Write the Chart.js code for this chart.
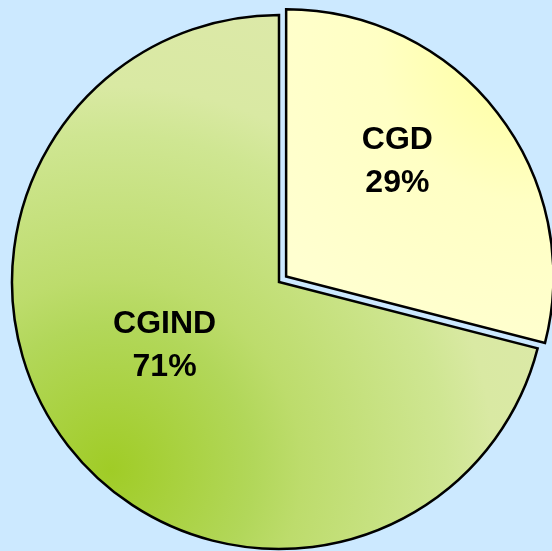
<!DOCTYPE html>
<html>
<head>
<meta charset="utf-8">
<script src="https://cdn.jsdelivr.net/npm/chart.js@4.4.0/dist/chart.umd.min.js"></script>
<style>
  html, body { margin: 0; padding: 0; background: #cce9ff; }
  #wrap { width: 552px; height: 551px; }
</style>
</head>
<body>
<div id="wrap"><canvas id="pie"></canvas></div>
<script>
// datos del gráfico
const categorias = ['CGD', 'CGIND'];
const porcentajes = [29, 71];

// etiquetas dentro de cada porción (ángulo desde las 12 en grados, distancia como fracción del radio)
const posEtiquetas = [
    { ang: 44, dist: 0.6 },
    { ang: 241, dist: 0.49 }
];

function relleno(ctx) {
    const chart = ctx.chart;
    const area = chart.chartArea;
    if (!area) return '#dde9a8';
    const c = chart.ctx;
    if (ctx.dataIndex === 0) {
        const g = c.createRadialGradient(530, 50, 0, 530, 50, 320);
        g.addColorStop(0, '#ffff99');
        g.addColorStop(0.5, '#ffffc4');
        g.addColorStop(1, '#ffffd0');
        return g;
    }
    const g = c.createRadialGradient(110, 470, 0, 110, 470, 480);
    g.addColorStop(0, '#a0cc26');
    g.addColorStop(0.3, '#b2d75a');
    g.addColorStop(0.4, '#bddc6c');
    g.addColorStop(0.7, '#cfe692');
    g.addColorStop(0.8, '#d9e9a3');
    g.addColorStop(1, '#dce9a8');
    return g;
}

const pluginEtiquetas = {
    id: 'etiquetas',
    afterDatasetsDraw(chart) {
        const c = chart.ctx;
        const arcs = chart.getDatasetMeta(0).data;
        c.save();
        c.fillStyle = '#000';
        c.font = 'bold 32px "Liberation Sans", Arial, sans-serif';
        c.textAlign = 'center';
        c.textBaseline = 'middle';
        arcs.forEach((arc, i) => {
            const p = posEtiquetas[i];
            const a = p.ang * Math.PI / 180;
            const mid = (arc.startAngle + arc.endAngle) / 2;
            // Chart.js desplaza el arco offset/4
            const off = (arc.options.offset || 0) / 4;
            const cx = arc.x + Math.cos(mid) * off;
            const cy = arc.y + Math.sin(mid) * off;
            const x = cx + Math.sin(a) * arc.outerRadius * p.dist;
            const y = cy - Math.cos(a) * arc.outerRadius * p.dist;
            c.fillText(categorias[i], x, y - 21);
            c.fillText(porcentajes[i] + '%', x, y + 22);
        });
        c.restore();
    }
};

new Chart(document.getElementById('pie'), {
    type: 'pie',
    data: {
        labels: categorias,
        datasets: [{
            data: porcentajes,
            backgroundColor: relleno,
            borderColor: '#000',
            borderWidth: 2.5,
            borderJoinStyle: 'miter',
            offset: [36, 0]
        }]
    },
    options: {
        responsive: true,
        maintainAspectRatio: false,
        animation: false,
        radius: 267,
        layout: { padding: { left: 6, right: 0, top: 13, bottom: 0 } },
        plugins: {
            legend: { display: false },
            tooltip: { enabled: false }
        }
    },
    plugins: [pluginEtiquetas]
});
</script>
</body>
</html>
